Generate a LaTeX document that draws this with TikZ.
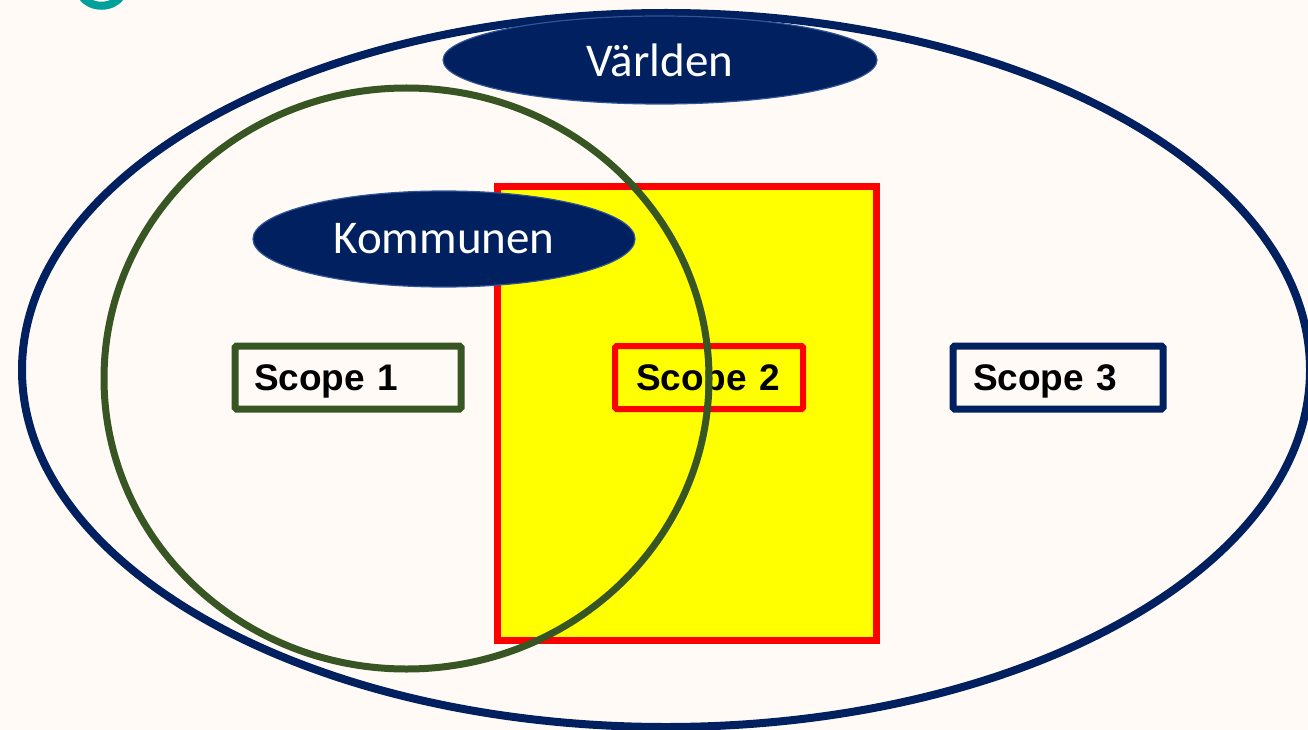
\documentclass[tikz,border=0pt]{standalone}
\usepackage{fontspec}
\setmainfont{Carlito}
\newfontfamily\scopefont{Liberation Sans}
\usepackage{tikz}
\usetikzlibrary{shapes}

\definecolor{navy}{HTML}{002060}
\definecolor{navyrim}{HTML}{2F5597}
\definecolor{kgreen}{HTML}{375623}
\definecolor{cream}{HTML}{FFFAF6}
\definecolor{pureyellow}{HTML}{FFFF00}
\definecolor{purered}{HTML}{FF0000}
\definecolor{titleteal}{HTML}{00A09B}

\begin{document}
\begin{tikzpicture}[
    x = 1pt, y = -1pt,
    tag/.style = {ellipse,
      fill = navy,
      draw = navyrim,
      line width = 1.2pt,
      inner sep = 0pt,
      text = white,
      font = \fontsize{47}{56}\selectfont},
    scopebox/.style = {rectangle,
      draw,
      rounded corners = 1.5pt,
      line width = 7pt,
      minimum height = 63pt,
      text depth = 0pt,
      align = left,
      font = \scopefont\bfseries\fontsize{37}{44}\selectfont}
    ]
    \clip (0, 0) rectangle (1308, 730);
    \fill [cream] (0, 0) rectangle (1308, 730);
    \useasboundingbox (0, 0) rectangle (1308, 730);

    % cut off title letter
    \draw [titleteal, line width = 8pt] (82, -4) .. controls (90, 9) and (113, 9) .. (121, -4);

    \node at (666, 370) [ellipse, draw = navy, line width = 8pt, inner sep = 0pt,
      minimum width = 1288pt, minimum height = 714pt, name = world] {};
    \node at (660, 60) [tag, minimum width = 434pt, minimum height = 88pt, name = varlden] {Världen};

    \node at (686.5, 413.5) [rectangle, fill = pureyellow, draw = purered, line width = 7pt,
      minimum width = 379pt, minimum height = 453pt, name = yellowbox] {};
    \node at (444, 239) [tag, minimum width = 382pt, minimum height = 96pt, name = kommunen] {Kommunen};

    \node at (348, 377.5) [scopebox, draw = kgreen, inner xsep = 19pt, text width = 188pt, name = s1] {Scope 1};
    \node at (709, 377.5) [scopebox, draw = purered, line width = 6pt, inner xsep = 21pt, text width = 146pt, name = s2] {Scope 2};
    \node at (1058, 377.5) [scopebox, draw = navy, inner xsep = 20pt, text width = 170pt, name = s3] {Scope 3};

    \node at (406.5, 378.5) [ellipse, draw = kgreen, line width = 7pt, inner sep = 0pt,
      minimum width = 605pt, minimum height = 581pt, name = kommunring] {};

  \end{tikzpicture}
\end{document}
